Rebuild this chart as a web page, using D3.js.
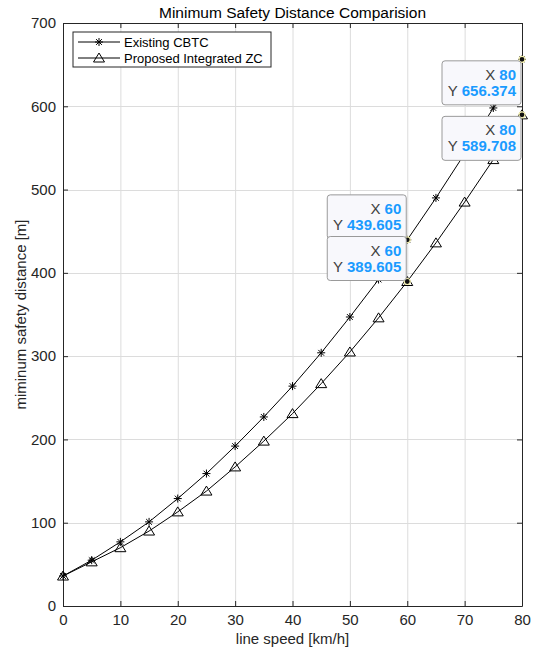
<!DOCTYPE html>
<html>
<head>
<meta charset="utf-8">
<script src="https://cdn.jsdelivr.net/npm/d3@7"></script>
<style>
  html, body { margin: 0; padding: 0; background: #fff; }
  svg { display: block; font-family: Arial, "Liberation Sans", Helvetica, sans-serif; }
</style>
</head>
<body>
<svg id="chart" width="536" height="647"></svg>
<script>
// Line speed samples (km/h)
const speeds = [0, 5, 10, 15, 20, 25, 30, 35, 40, 45, 50, 55, 60, 65, 70, 75, 80];
// Minimum safety distance (m) per line speed
const existingCBTC = [36, 55, 77, 101, 129, 159, 192, 227, 264, 304, 347, 392, 439.605, 490, 543, 598, 656.374];
const proposedZC   = [36, 53, 70, 90, 113, 138, 167, 198, 231, 267, 305, 346, 389.605, 436, 485, 536, 589.708];

const xTicks = [0, 10, 20, 30, 40, 50, 60, 70, 80];
const yTicks = [0, 100, 200, 300, 400, 500, 600, 700];

const seriesNames = ["Existing CBTC", "Proposed Integrated ZC"];

// Data tips: [series index, speed]
const dataTips = [
  { series: 0, x: 60, place: "above" },
  { series: 1, x: 60, place: "above" },
  { series: 0, x: 80, place: "below" },
  { series: 1, x: 80, place: "below" }
];

const svg = d3.select("#chart");
const margin = { left: 63, right: 14, top: 23, bottom: 41 };
const W = 536, H = 647;
const x = d3.scaleLinear().domain([0, 80]).range([margin.left, W - margin.right]);
const y = d3.scaleLinear().domain([0, 700]).range([H - margin.bottom, margin.top]);

const x0 = x.range()[0], x1 = x.range()[1];
const y0 = y.range()[0], y1 = y.range()[1];

// grid
const grid = svg.append("g").attr("stroke", "#dcdcdc").attr("stroke-width", 1);
xTicks.slice(1, -1).forEach(t => {
  grid.append("line").attr("x1", x(t) + 0.5).attr("x2", x(t) + 0.5).attr("y1", y1).attr("y2", y0);
});
yTicks.slice(1, -1).forEach(t => {
  grid.append("line").attr("x1", x0).attr("x2", x1).attr("y1", Math.round(y(t)) + 0.5).attr("y2", Math.round(y(t)) + 0.5);
});

// axes: bottom/left with labels, top/right mirrored ticks, all ticks inward
const tickLen = 5;
const fmt = d3.format("d");
const axB = svg.append("g").attr("transform", `translate(0,${y0})`)
  .call(d3.axisBottom(x).tickValues(xTicks).tickFormat(fmt).tickSizeInner(-tickLen).tickSizeOuter(0).tickPadding(8));
const axT = svg.append("g").attr("transform", `translate(0,${y1})`)
  .call(d3.axisTop(x).tickValues(xTicks).tickFormat("").tickSizeInner(-tickLen).tickSizeOuter(0));
const axL = svg.append("g").attr("transform", `translate(${x0},0)`)
  .call(d3.axisLeft(y).tickValues(yTicks).tickFormat(fmt).tickSizeInner(-tickLen).tickSizeOuter(0).tickPadding(7));
const axR = svg.append("g").attr("transform", `translate(${x1},0)`)
  .call(d3.axisRight(y).tickValues(yTicks).tickFormat("").tickSizeInner(-tickLen).tickSizeOuter(0));
[axB, axT, axL, axR].forEach(a => {
  a.selectAll("path.domain").attr("stroke", "#262626").attr("stroke-width", 1);
  a.selectAll(".tick line").attr("stroke", "#262626");
  a.selectAll(".tick text").attr("fill", "#262626").attr("font-size", 15).attr("font-family", "Arial, 'Liberation Sans', sans-serif");
});

// lines and markers
const lineGen = d3.line().x((d, i) => x(speeds[i])).y(d => y(d));
const series = [existingCBTC, proposedZC];
const plot = svg.append("g");
series.forEach((vals, si) => {
  plot.append("path").attr("d", lineGen(vals)).attr("fill", "none").attr("stroke", "#000").attr("stroke-width", 1);
});

function star(g, cx, cy, r) {
  const p = d3.path();
  p.moveTo(cx - r, cy); p.lineTo(cx + r, cy);
  p.moveTo(cx, cy - r); p.lineTo(cx, cy + r);
  const d = r * 0.72;
  p.moveTo(cx - d, cy - d); p.lineTo(cx + d, cy + d);
  p.moveTo(cx - d, cy + d); p.lineTo(cx + d, cy - d);
  g.append("path").attr("d", p.toString()).attr("stroke", "#000").attr("stroke-width", 1).attr("fill", "none");
}
function tri(g, cx, cy, r) {
  const p = d3.path();
  p.moveTo(cx, cy - r); p.lineTo(cx + r * 1.1, cy + r * 0.8); p.lineTo(cx - r * 1.1, cy + r * 0.8); p.closePath();
  g.append("path").attr("d", p.toString()).attr("stroke", "#000").attr("stroke-width", 1).attr("fill", "none");
}
speeds.forEach((s, i) => {
  star(plot, x(s), y(existingCBTC[i]), 4);
  tri(plot, x(s), y(proposedZC[i]), 5);
});

// legend
const lg = svg.append("g").attr("transform", "translate(73,32)");
lg.append("rect").attr("width", 198).attr("height", 35).attr("fill", "#fff").attr("stroke", "#262626").attr("stroke-width", 1);
seriesNames.forEach((name, i) => {
  const yy = 10 + i * 16;
  lg.append("line").attr("x1", 5).attr("x2", 47).attr("y1", yy).attr("y2", yy).attr("stroke", "#000");
  if (i === 0) star(lg, 26, yy, 4); else tri(lg, 26, yy, 5);
  lg.append("text").attr("x", 51).attr("y", yy + 4.5).attr("font-size", 13).attr("fill", "#000").text(name);
});

// data tips
const tipW = 79, tipH = 44;
dataTips.forEach(t => {
  const vals = series[t.series];
  const v = vals[speeds.indexOf(t.x)];
  const px = x(t.x), py = y(v);
  const g = svg.append("g");
  g.append("circle").attr("cx", px).attr("cy", py).attr("r", 3).attr("fill", "#111").attr("stroke", "#f4f0b0").attr("stroke-width", 1.2);
  const bx = px - tipW - 1;
  const by = t.place === "above" ? py - tipH - 1 : py + 1.5;
  g.append("rect").attr("x", bx).attr("y", by).attr("width", tipW).attr("height", tipH).attr("rx", 3)
    .attr("fill", "#f8f8fc").attr("stroke", "#9a9a9a").attr("stroke-width", 1);
  const rows = [["X", String(t.x)], ["Y", d3.format(".3f")(v)]];
  rows.forEach((r, k) => {
    const tx = g.append("text").attr("x", bx + tipW - 5).attr("y", by + 19 + k * 16)
      .attr("text-anchor", "end").attr("font-size", 15);
    tx.append("tspan").attr("fill", "#404040").text(r[0] + " ");
    tx.append("tspan").attr("fill", "#1a9bff").attr("font-weight", "bold").text(r[1]);
  });
});

// title and axis labels
svg.append("text").attr("x", (x0 + x1) / 2).attr("y", 18).attr("text-anchor", "middle")
  .attr("font-size", 15.5).attr("fill", "#000").text("Minimum Safety Distance Comparision");
svg.append("text").attr("x", (x0 + x1) / 2).attr("y", 644).attr("text-anchor", "middle")
  .attr("font-size", 15).attr("fill", "#262626").text("line speed [km/h]");
svg.append("text").attr("transform", `translate(26,${(y0 + y1) / 2}) rotate(-90)`).attr("text-anchor", "middle")
  .attr("font-size", 15).attr("fill", "#262626").text("miminum safety distance [m]");
</script>
</body>
</html>
